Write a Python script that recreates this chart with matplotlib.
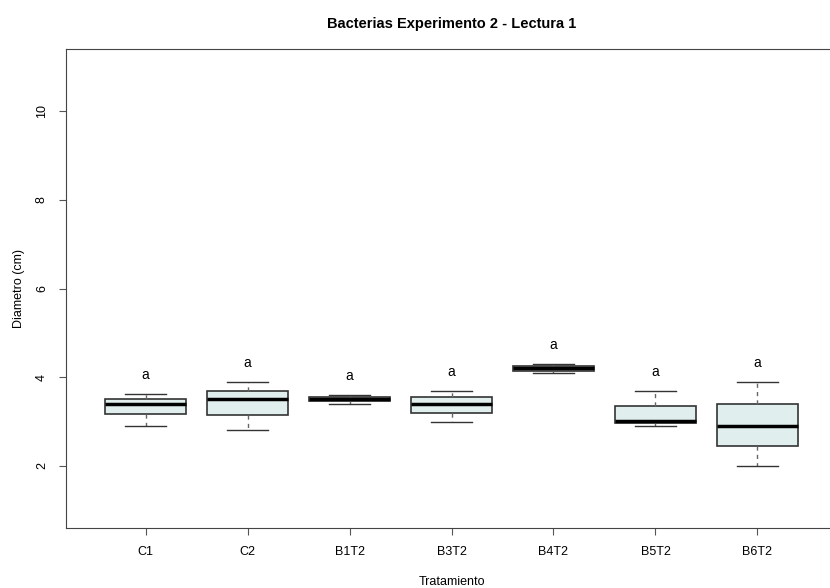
import matplotlib
matplotlib.use("Agg")
import matplotlib.pyplot as plt

plt.rcParams['font.family'] = ['Liberation Sans', 'DejaVu Sans']

# tratamientos y estadisticas
tratamientos = ['C1', 'C2', 'B1T2', 'B3T2', 'B4T2', 'B5T2', 'B6T2']
bigote_inf = [2.90, 2.80, 3.40, 3.00, 4.10, 2.90, 2.00]
q1 = [3.16, 3.15, 3.46, 3.20, 4.15, 2.96, 2.45]
mediana = [3.40, 3.50, 3.51, 3.40, 4.20, 3.01, 2.90]
q3 = [3.51, 3.70, 3.56, 3.56, 4.25, 3.35, 3.40]
bigote_sup = [3.62, 3.90, 3.60, 3.70, 4.30, 3.70, 3.90]
letras = ['a', 'a', 'a', 'a', 'a', 'a', 'a']

stats = []
for i in range(len(tratamientos)):
    stats.append({'whislo': bigote_inf[i], 'q1': q1[i], 'med': mediana[i],
                  'q3': q3[i], 'whishi': bigote_sup[i], 'label': tratamientos[i]})

fig = plt.figure(figsize=(8.3, 5.88), dpi=100)
ax = fig.add_axes([66 / 830, 60 / 588, (837 - 66) / 830, (528 - 49) / 588])

ax.bxp(stats, positions=range(1, len(tratamientos) + 1), widths=0.8,
       showfliers=False, patch_artist=True,
       boxprops=dict(facecolor='#E0EEEE', edgecolor='#333333', linewidth=1.2),
       medianprops=dict(color='black', linewidth=2.5),
       whiskerprops=dict(color='#666666', linestyle=(0, (3, 3)), linewidth=1),
       capprops=dict(color='#333333', linewidth=1))

# letras de significancia encima de cada caja
for i, letra in enumerate(letras):
    ax.text(i + 1, bigote_sup[i] + 0.42, letra, ha='center', va='center', fontsize=10)

ax.set_xlim(0.22, 7.78)
ax.set_ylim(0.6, 11.4)
ax.set_yticks([2, 4, 6, 8, 10])
ax.set_xticks(range(1, len(tratamientos) + 1))
ax.set_xticklabels(tratamientos)
for lab in ax.get_yticklabels():
    lab.set_rotation(90)
    lab.set_va('center')
ax.tick_params(axis='both', labelsize=9, length=5, color='#555555', pad=8)
for s in ax.spines.values():
    s.set_color('#444444')

ax.set_title('Bacterias Experimento 2 - Lectura 1', fontsize=10.5, fontweight='bold', pad=15)
ax.set_xlabel('Tratamiento', fontsize=9, labelpad=13)
ax.set_ylabel('Diametro (cm)', fontsize=9, labelpad=8)

fig.savefig('out.png', dpi=100)
